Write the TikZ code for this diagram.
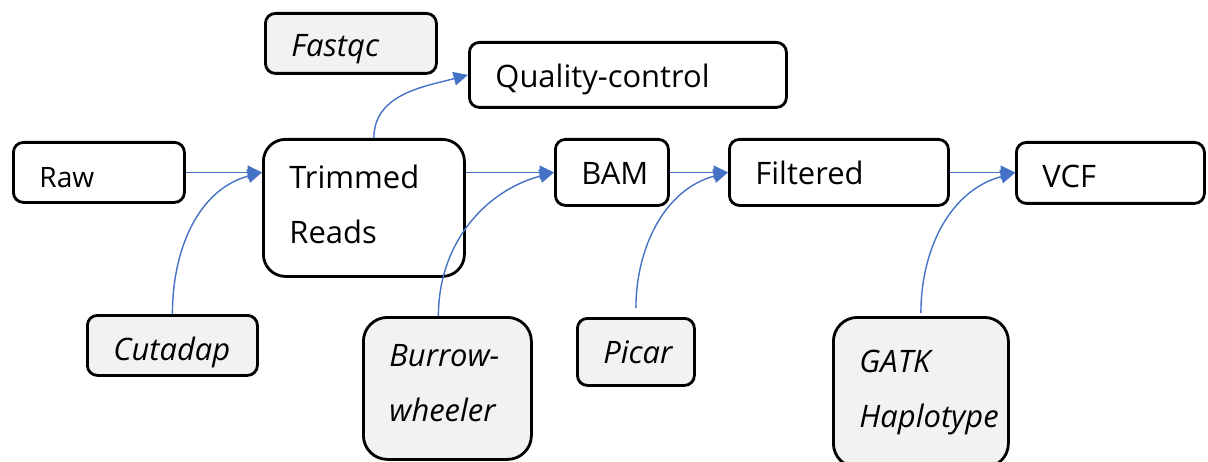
\documentclass[tikz,border=0pt]{standalone}
\usepackage{fontspec}
\setmainfont{Open Sans}
\usetikzlibrary{arrows.meta}
\definecolor{flowblue}{HTML}{4472C4}
\definecolor{toolgray}{HTML}{F2F2F2}

\begin{document}
\begin{tikzpicture}[
box/.style={draw,line width=2pt,rounded corners=0.25cm,anchor=north west,inner xsep=0.65cm,inner ysep=0pt,align=left,font=\fontsize{22}{39}\selectfont},
tool/.style={box,fill=toolgray,font=\fontsize{22}{39}\selectfont\itshape},
flow/.style={flowblue,line width=1pt,-{Triangle[length=0.36cm,width=0.34cm]}}]
\useasboundingbox (0,0) rectangle (30.2,-11.55);

% main line
\node (raw) [box,text width=2.975cm,minimum height=1.5cm,text height=0.85cm,text depth=0.1cm,
    font=\fontsize{20}{39}\selectfont] at (0.3,-3.525) {Raw};
\node (trim) [box,rounded corners=0.55cm,text width=3.725cm,minimum height=3.425cm,
    text height=0.5cm,text depth=1.475cm] at (6.55,-3.45) {Trimmed\\Reads};
\node (bam) [box,text width=1.525cm,minimum height=1.65cm,text height=0.725cm,text depth=0.1cm] at (13.85,-3.45) {BAM};
\node (filt) [box,text width=4.175cm,minimum height=1.65cm,text height=0.7cm,text depth=0.1cm] at (18.2,-3.45) {Filtered};
\node (vcf) [box,text width=3.4cm,minimum height=1.525cm,text height=0.85cm,text depth=0.1cm] at (25.375,-3.525) {VCF};
\node (qc) [box,text width=6.625cm,minimum height=1.625cm,text height=0.725cm,text depth=0.1cm] at (11.7,-1.025) {Quality-control};

% tools
\node (fastqc) [tool,text width=2.975cm,minimum height=1.5cm,text height=0.75cm,text depth=0.1cm] at (6.6,-0.3) {Fastqc};
\node (cut) [tool,text width=2.95cm,minimum height=1.5cm,text height=0.85cm,text depth=0.1cm] at (2.15,-7.85) {Cutadap};
\node (bwt) [tool,rounded corners=0.6cm,text width=2.9cm,minimum height=3.55cm,
    text height=0.4cm,text depth=1.5cm] at (9.05,-7.9) {Burrow-\\wheeler};
\node (picar) [tool,text width=1.625cm,minimum height=1.675cm,text height=0.7cm,text depth=0.1cm] at (14.4,-7.925) {Picar};
\node (gatk) [tool,rounded corners=0.6cm,text width=3.075cm,minimum height=3.75cm,
    text height=0.45cm,text depth=1.45cm] at (20.8,-7.9) {GATK\\Haplotype};

% connectors
\draw[flow] (raw.east) -- (raw.east -| trim.west);
\draw[flow] (cut.north) to[out=90,in=195] (raw.east -| trim.west);
\draw[flow] ([xshift=0.25cm]trim.north) to[out=90,in=195] (qc.west);
\draw[flow] (trim.east |- bam.west) -- (bam.west);
\draw[flow] ([xshift=-0.225cm]bwt.north) to[out=90,in=195] (bam.west);
\draw[flow] (bam.east) -- (bam.east -| filt.west);
\draw[flow,shorten <=0.225cm] (picar.north) to[out=90,in=195] (filt.west);
\draw[flow] (filt.east) -- (filt.east -| vcf.west);
\draw[flow,shorten <=0.075cm] (gatk.north) to[out=90,in=195] (vcf.west);
\end{tikzpicture}
\end{document}
